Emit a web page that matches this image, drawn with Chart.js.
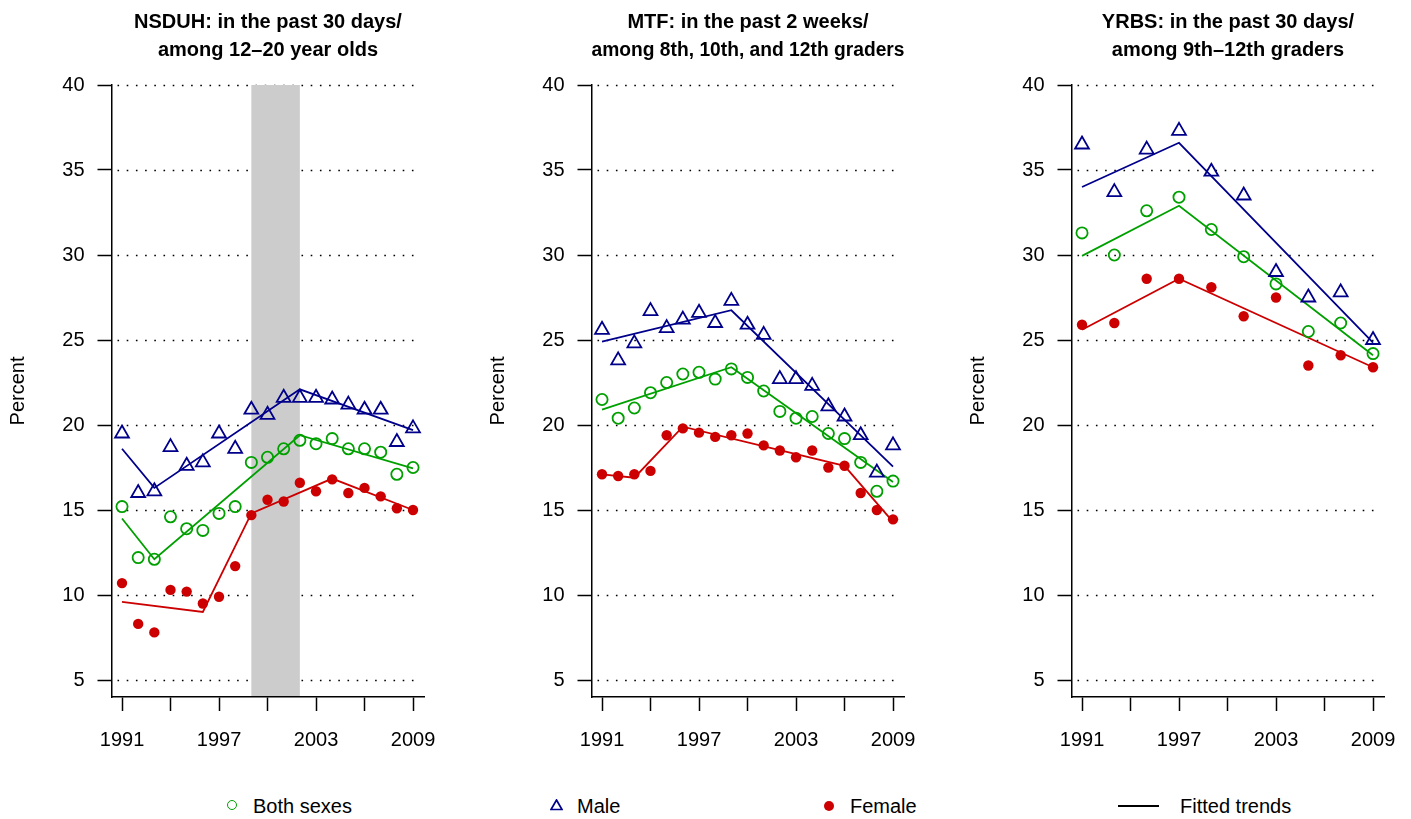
<!DOCTYPE html>
<html>
<head>
<meta charset="utf-8">
<script src="https://cdn.jsdelivr.net/npm/chart.js@4.4.1/dist/chart.umd.min.js"></script>
<style>
  body { margin: 0; background: #fff; width: 1411px; height: 819px; position: relative; overflow: hidden;
         font-family: "Liberation Sans", Arial, sans-serif; color: #000; }
  canvas.panel { position: absolute; top: 0; }
  .leg { position: absolute; top: 794px; height: 24px; line-height: 24px; font-size: 20px; white-space: nowrap; }
  .mk { position: absolute; }
</style>
</head>
<body>
<canvas id="nsduh" class="panel" width="470" height="780" style="left:0px"></canvas>
<canvas id="mtf" class="panel" width="470" height="780" style="left:480px"></canvas>
<canvas id="yrbs" class="panel" width="470" height="780" style="left:960px"></canvas>

<!-- legend along the bottom -->
<div class="mk" style="left:227px;top:800px;width:8px;height:8px;border:1.7px solid #00a000;border-radius:50%"></div>
<div class="leg" style="left:253px">Both sexes</div>
<svg class="mk" style="left:550px;top:799px" width="13" height="12"><polygon points="6.5,1 12,10.5 1,10.5" fill="none" stroke="#00008b" stroke-width="1.7"/></svg>
<div class="leg" style="left:577px">Male</div>
<div class="mk" style="left:824px;top:801px;width:10px;height:10px;background:#cc0000;border-radius:50%"></div>
<div class="leg" style="left:850px">Female</div>
<div class="mk" style="left:1118px;top:805px;width:41px;height:1.6px;background:#000"></div>
<div class="leg" style="left:1180px">Fitted trends</div>

<script>
const GREEN = '#00a000', BLUE = '#00008b', RED = '#cc0000';
const FAMILY = '"Liberation Sans", Arial, sans-serif';

// NSDUH and MTF are annual, YRBS every other year
const annualYears = [1991, 1992, 1993, 1994, 1995, 1996, 1997, 1998, 1999, 2000,
                     2001, 2002, 2003, 2004, 2005, 2006, 2007, 2008, 2009];
const biennialYears = [1991, 1993, 1995, 1997, 1999, 2001, 2003, 2005, 2007, 2009];

const nsduhBoth   = [15.2, 12.2, 12.1, 14.6, 13.9, 13.8, 14.8, 15.2, 17.8, 18.1, 18.6, 19.1, 18.9, 19.2, 18.6, 18.6, 18.4, 17.1, 17.5];
const nsduhMale   = [19.5, 16.0, 16.1, 18.7, 17.6, 17.8, 19.5, 18.6, 20.9, 20.6, 21.6, 21.6, 21.6, 21.5, 21.2, 20.9, 20.9, 19.0, 19.8];
const nsduhFemale = [10.7, 8.3, 7.8, 10.3, 10.2, 9.5, 9.9, 11.7, 14.7, 15.6, 15.5, 16.6, 16.1, 16.8, 16.0, 16.3, 15.8, 15.1, 15.0];
const nsduhBothTrendYears   = [1991, 1993, 2002, 2009];
const nsduhBothTrend        = [14.5, 12.1, 19.4, 17.45];
const nsduhMaleTrendYears   = [1991, 1993, 2002, 2009];
const nsduhMaleTrend        = [18.6, 16.3, 22.1, 19.7];
const nsduhFemaleTrendYears = [1991, 1996, 1999, 2004, 2009];
const nsduhFemaleTrend      = [9.6, 9.0, 14.8, 16.85, 15.0];
const nsduhShade = [1999, 2002];

const mtfBoth   = [21.5, 20.4, 21.0, 21.9, 22.5, 23.0, 23.1, 22.7, 23.3, 22.8, 22.0, 20.8, 20.4, 20.5, 19.5, 19.2, 17.8, 16.1, 16.7];
const mtfMale   = [25.6, 23.8, 24.8, 26.7, 25.7, 26.2, 26.6, 26.0, 27.3, 25.9, 25.3, 22.7, 22.7, 22.3, 21.1, 20.5, 19.4, 17.2, 18.8];
const mtfFemale = [17.1, 17.0, 17.1, 17.3, 19.4, 19.8, 19.55, 19.3, 19.4, 19.5, 18.8, 18.5, 18.1, 18.5, 17.5, 17.6, 16.0, 15.0, 14.45];
const mtfBothTrendYears   = [1991, 1999, 2009];
const mtfBothTrend        = [20.9, 23.4, 16.65];
const mtfMaleTrendYears   = [1991, 1999, 2009];
const mtfMaleTrend        = [24.9, 26.75, 17.55];
const mtfFemaleTrendYears = [1991, 1993, 1996, 2006, 2009];
const mtfFemaleTrend      = [17.1, 16.9, 19.9, 17.6, 14.3];

const yrbsBoth   = [31.3, 30.0, 32.6, 33.4, 31.5, 29.9, 28.3, 25.5, 26.0, 24.2];
const yrbsMale   = [36.5, 33.7, 36.2, 37.3, 34.9, 33.5, 29.0, 27.5, 27.8, 25.0];
const yrbsFemale = [25.9, 26.0, 28.6, 28.6, 28.1, 26.4, 27.5, 23.5, 24.1, 23.4];
const yrbsTrendYears   = [1991, 1997, 2009];
const yrbsBothTrend    = [29.95, 32.9, 24.1];
const yrbsMaleTrend    = [34.0, 36.6, 24.85];
const yrbsFemaleTrend  = [25.6, 28.6, 23.4];

const xTickValues = [1991, 1994, 1997, 2000, 2003, 2006, 2009];
const xTickLabels = [1991, 1997, 2003, 2009];
const yTickValues = [5, 10, 15, 20, 25, 30, 35, 40];

const pairs = (xs, ys) => xs.map((x, i) => ({ x: x, y: ys[i] }));

// dotted reference lines and the shaded band, drawn under the axes
const backdrop = {
  id: 'backdrop',
  beforeDraw(chart, args, opts) {
    const { ctx, chartArea: a, scales: { x, y } } = chart;
    ctx.save();
    ctx.strokeStyle = '#000';
    ctx.lineWidth = 1.5;
    ctx.setLineDash([1.6, 7.6]);
    yTickValues.forEach(v => {
      const py = Math.round(y.getPixelForValue(v)) + 0.5;
      ctx.beginPath();
      ctx.moveTo(a.left + 6, py);
      ctx.lineTo(a.right - 4, py);
      ctx.stroke();
    });
    ctx.setLineDash([]);
    if (opts.shade) {
      const x0 = x.getPixelForValue(opts.shade[0]);
      const x1 = x.getPixelForValue(opts.shade[1]);
      const top = y.getPixelForValue(40);
      ctx.fillStyle = '#cccccc';
      ctx.fillRect(x0, top, x1 - x0, a.bottom - top);
    }
    ctx.restore();
  }
};

function makePanel(id, title, years, both, male, female, trends, shade) {
  const tickFont = { size: 20, family: FAMILY };
  return new Chart(document.getElementById(id), {
    type: 'line',
    data: {
      datasets: [
        { data: pairs(years, both), showLine: false, pointStyle: 'circle', pointRadius: 5.6,
          borderColor: GREEN, backgroundColor: 'rgba(0,0,0,0)', pointBorderWidth: 1.8 },
        { data: pairs(years, male), showLine: false, pointStyle: 'triangle', pointRadius: 8,
          borderColor: BLUE, backgroundColor: 'rgba(0,0,0,0)', pointBorderWidth: 1.8 },
        { data: pairs(years, female), showLine: false, pointStyle: 'circle', pointRadius: 5.2,
          borderColor: RED, backgroundColor: RED, pointBorderWidth: 0 },
        { data: pairs(trends[0], trends[1]), borderColor: GREEN, borderWidth: 1.8, pointRadius: 0, tension: 0 },
        { data: pairs(trends[0], trends[2]), borderColor: BLUE, borderWidth: 1.8, pointRadius: 0, tension: 0 },
        { data: pairs(trends[3], trends[4]), borderColor: RED, borderWidth: 1.8, pointRadius: 0, tension: 0 }
      ]
    },
    options: {
      responsive: false,
      animation: false,
      devicePixelRatio: 1,
      layout: { padding: { left: 0, right: 45.5, top: 0, bottom: 0 } },
      plugins: {
        legend: { display: false },
        tooltip: { enabled: false },
        backdrop: { shade: shade },
        title: {
          display: true, text: title, color: '#000', fullSize: false,
          font: { size: 20, weight: 'bold', family: FAMILY, lineHeight: 1.4 },
          padding: { top: 8, bottom: 21 }
        }
      },
      scales: {
        x: {
          type: 'linear', min: 1990.35, max: 2009.71,
          afterBuildTicks: s => { s.ticks = xTickValues.map(v => ({ value: v })); },
          afterFit: s => { s.height = 83; },
          ticks: { color: '#000', font: tickFont, padding: 17, maxRotation: 0, autoSkip: false,
                   callback: v => xTickLabels.includes(v) ? String(v) : '' },
          grid: { drawOnChartArea: false, drawTicks: true, tickLength: 14, tickColor: '#000', tickWidth: 1.5 },
          border: { display: true, color: '#000', width: 1.5 }
        },
        y: {
          type: 'linear', min: 4, max: 40,
          afterBuildTicks: s => { s.ticks = yTickValues.map(v => ({ value: v })); },
          afterFit: s => { s.width = 111.5; },
          ticks: { color: '#000', font: tickFont, padding: 13, callback: v => String(v) },
          grid: { drawOnChartArea: false, drawTicks: true, tickLength: 14, tickColor: '#000', tickWidth: 1.5 },
          border: { display: true, color: '#000', width: 1.5 },
          title: { display: true, text: 'Percent', color: '#000', font: { size: 20, family: FAMILY },
                   padding: { top: 6, bottom: 0 } }
        }
      }
    },
    plugins: [backdrop]
  });
}

makePanel('nsduh', ['NSDUH: in the past 30 days/', 'among 12\u201320 year olds'],
  annualYears, nsduhBoth, nsduhMale, nsduhFemale,
  [nsduhBothTrendYears, nsduhBothTrend, nsduhMaleTrend, nsduhFemaleTrendYears, nsduhFemaleTrend], nsduhShade);

makePanel('mtf', ['MTF: in the past 2 weeks/', 'among 8th, 10th, and 12th graders'],
  annualYears, mtfBoth, mtfMale, mtfFemale,
  [mtfBothTrendYears, mtfBothTrend, mtfMaleTrend, mtfFemaleTrendYears, mtfFemaleTrend], null);

makePanel('yrbs', ['YRBS: in the past 30 days/', 'among 9th\u201312th graders'],
  biennialYears, yrbsBoth, yrbsMale, yrbsFemale,
  [yrbsTrendYears, yrbsBothTrend, yrbsMaleTrend, yrbsTrendYears, yrbsFemaleTrend], null);
</script>
</body>
</html>
